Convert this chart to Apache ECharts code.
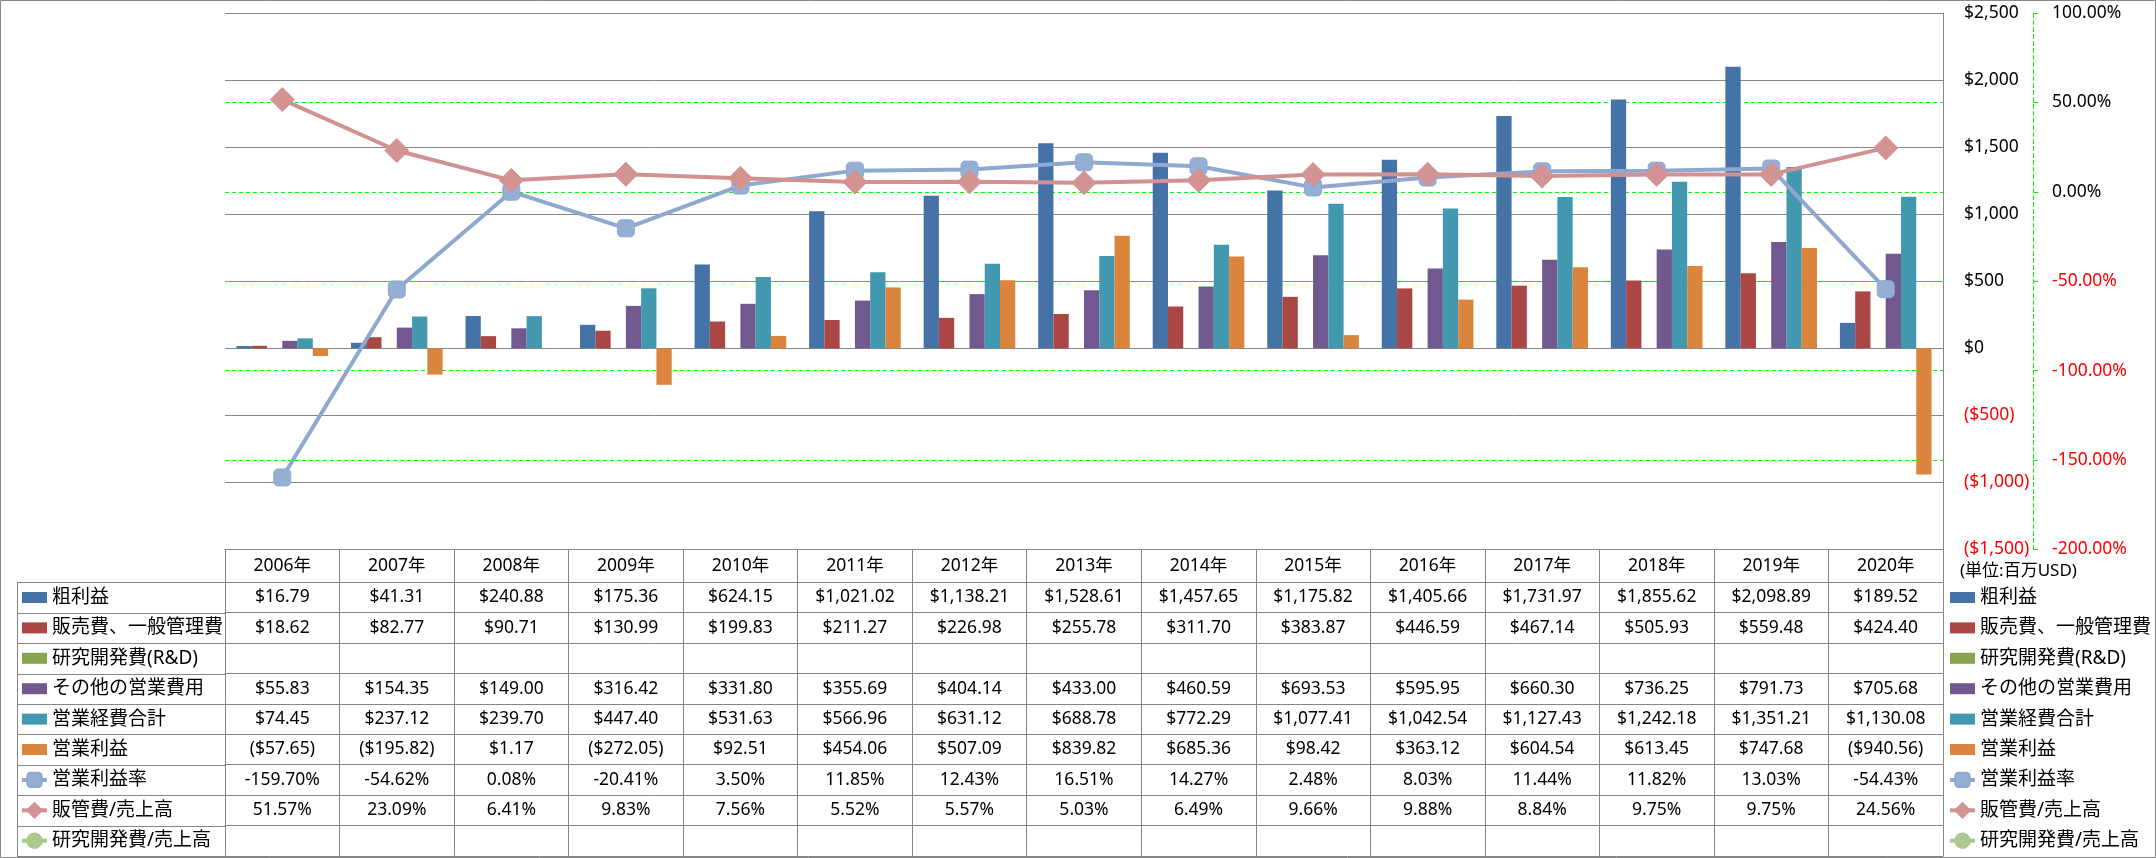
<!DOCTYPE html>
<html>
<head>
<meta charset="utf-8">
<script src="https://cdn.jsdelivr.net/npm/echarts@6/dist/echarts.min.js"></script>
<style>
html,body{margin:0;padding:0;background:#fff;}
#chart{width:2156px;height:858px;}
</style>
</head>
<body>
<div id="chart"></div>
<script>
// ---------- data ----------
const years = ['2006年','2007年','2008年','2009年','2010年','2011年','2012年','2013年','2014年','2015年','2016年','2017年','2018年','2019年','2020年'];
const grossProfit = [16.79, 41.31, 240.88, 175.36, 624.15, 1021.02, 1138.21, 1528.61, 1457.65, 1175.82, 1405.66, 1731.97, 1855.62, 2098.89, 189.52];
const sgaExpense  = [18.62, 82.77, 90.71, 130.99, 199.83, 211.27, 226.98, 255.78, 311.70, 383.87, 446.59, 467.14, 505.93, 559.48, 424.40];
const rdExpense   = [null, null, null, null, null, null, null, null, null, null, null, null, null, null, null];
const otherOpex   = [55.83, 154.35, 149.00, 316.42, 331.80, 355.69, 404.14, 433.00, 460.59, 693.53, 595.95, 660.30, 736.25, 791.73, 705.68];
const totalOpex   = [74.45, 237.12, 239.70, 447.40, 531.63, 566.96, 631.12, 688.78, 772.29, 1077.41, 1042.54, 1127.43, 1242.18, 1351.21, 1130.08];
const opIncome    = [-57.65, -195.82, 1.17, -272.05, 92.51, 454.06, 507.09, 839.82, 685.36, 98.42, 363.12, 604.54, 613.45, 747.68, -940.56];
const opMargin    = [-159.70, -54.62, 0.08, -20.41, 3.50, 11.85, 12.43, 16.51, 14.27, 2.48, 8.03, 11.44, 11.82, 13.03, -54.43];
const sgaRatio    = [51.57, 23.09, 6.41, 9.83, 7.56, 5.52, 5.57, 5.03, 6.49, 9.66, 9.88, 8.84, 9.75, 9.75, 24.56];
const rdRatio     = [null, null, null, null, null, null, null, null, null, null, null, null, null, null, null];

const seriesNames = ['粗利益','販売費、一般管理費','研究開発費(R&D)','その他の営業費用','営業経費合計','営業利益','営業利益率','販管費/売上高','研究開発費/売上高'];
const moneyAxis = {min: -1500, max: 2500, interval: 500};
const pctAxis   = {min: -200, max: 100, interval: 50};
const unitNote  = '(単位:百万USD)';

// ---------- layout / style ----------
const W = 2156, H = 858;
const PLOT_L = 225, PLOT_R = 1943, PLOT_T = 13, PLOT_B = 549.5;
const HEAD_H = 32.8, ROW_H = 30.4;
const NAME_L = 17;
const GRAY = '#868686';
const GREEN = '#00FF00';
const FONT = '"Noto Sans", "Noto Sans CJK JP", sans-serif';
const NUM_FS = 17.5;
const barColors = ['#4572A7','#AA4643','#89A54E','#71588F','#4198AF','#DB843D'];
const lineColors = ['#8FA8CF','#D09291','#A9C78A'];

function money(v, dec) {
  if (v == null) return '';
  const s = '$' + Math.abs(v).toLocaleString('en-US', {minimumFractionDigits: dec, maximumFractionDigits: dec});
  return v < 0 ? '(' + s + ')' : s;
}
function pct(v) { return v == null ? '' : v.toFixed(2) + '%'; }

const barData = [grossProfit, sgaExpense, rdExpense, otherOpex, totalOpex, opIncome];
const lineData = [opMargin, sgaRatio, rdRatio];
const tableRows = barData.map(a => a.map(v => money(v, 2))).concat(lineData.map(a => a.map(pct)));

// ---------- axes ----------
const xAxes = [{
  type: 'category', data: years, gridIndex: 0, position: 'bottom',
  axisLine: {show: true, onZero: false, lineStyle: {color: GRAY, width: 1}},
  axisTick: {show: true, interval: 0, length: HEAD_H, lineStyle: {color: GRAY}},
  axisLabel: {interval: 0, margin: HEAD_H / 2, verticalAlign: 'middle', color: '#000', fontSize: NUM_FS, fontFamily: FONT},
  splitLine: {show: false}
}];
tableRows.forEach((row, k) => {
  xAxes.push({
    type: 'category', data: row, gridIndex: 0, position: 'bottom',
    offset: HEAD_H + ROW_H * k,
    axisLine: {show: true, onZero: false, lineStyle: {color: GRAY, width: 1}},
    axisTick: {show: true, interval: 0, length: ROW_H, lineStyle: {color: GRAY}},
    axisLabel: {interval: 0, margin: ROW_H / 2, verticalAlign: 'middle', color: '#000', fontSize: NUM_FS, fontFamily: FONT},
    splitLine: {show: false}, axisPointer: {show: false}
  });
});
xAxes.push({
  type: 'category', data: years, gridIndex: 0, position: 'bottom',
  offset: HEAD_H + ROW_H * tableRows.length,
  axisLine: {show: true, onZero: false, lineStyle: {color: GRAY, width: 1}},
  axisTick: {show: false}, axisLabel: {show: false}, splitLine: {show: false}
});

const yAxes = [{
  type: 'value', position: 'right', min: moneyAxis.min, max: moneyAxis.max, interval: moneyAxis.interval,
  axisLine: {show: true, lineStyle: {color: GRAY, width: 1}},
  axisTick: {show: false},
  axisLabel: {margin: 21, fontSize: NUM_FS, fontFamily: FONT,
    formatter: v => money(Number(v), 0),
    color: v => Number(v) < 0 ? '#FF0000' : '#000'},
  splitLine: {show: true, lineStyle: {color: GRAY, width: 1}}
}, {
  type: 'value', position: 'right', offset: 90, min: pctAxis.min, max: pctAxis.max, interval: pctAxis.interval,
  axisLine: {show: true, lineStyle: {color: GREEN, width: 1, type: [4, 3]}},
  axisTick: {show: true, length: 5, lineStyle: {color: GREEN, width: 1}},
  axisLabel: {margin: 19, fontSize: NUM_FS, fontFamily: FONT,
    formatter: v => pct(Number(v)),
    color: v => Number(v) < 0 ? '#FF0000' : '#000'},
  splitLine: {show: true, showMinLine: false, showMaxLine: false, lineStyle: {color: GREEN, width: 1, type: [4, 3]}}
}];

// ---------- series ----------
const series = [];
barData.forEach((arr, i) => {
  series.push({
    name: seriesNames[i], type: 'bar', xAxisIndex: 0, yAxisIndex: 0,
    data: arr, barGap: '0%', barCategoryGap: '20%',
    itemStyle: {color: barColors[i]}, emphasis: {disabled: true}
  });
});
const symbols = ['roundRect', 'diamond', 'circle'];
const symSizes = [17, 24, 17];
const symFill = ['#95AED4', '#D39393', '#ADC990'];
lineData.forEach((arr, i) => {
  series.push({
    name: seriesNames[6 + i], type: 'line', xAxisIndex: 0, yAxisIndex: 1,
    data: arr, symbol: symbols[i], symbolSize: symSizes[i], showAllSymbol: true,
    lineStyle: {color: lineColors[i], width: 4},
    itemStyle: {color: symFill[i], borderColor: lineColors[i], borderWidth: 1},
    emphasis: {disabled: true}, z: 3 + i
  });
});

// bar legend icon: a flat 25x11 swatch kept at its aspect ratio inside the legend box
const BAR_ICON = 'path://M0,0H25V11H0Z';
const legendData = seriesNames.map((n, i) => i < 6 ? {name: n, icon: BAR_ICON} : {name: n});
function makeLegend(left) {
  return {
    orient: 'vertical', left: left, top: PLOT_B + HEAD_H, padding: 0,
    itemGap: 0, itemWidth: 25, itemHeight: 18, selectedMode: false,
    symbolKeepAspect: true,
    data: legendData,
    lineStyle: {width: 4},
    textStyle: {fontSize: 19, lineHeight: ROW_H, color: '#000', fontFamily: FONT}
  };
}

// table frame for the name column
const graphics = [];
const crisp = v => Math.round(v) + 0.5;
for (let k = 0; k <= tableRows.length; k++) {
  const y = crisp(PLOT_B + HEAD_H + ROW_H * k);
  graphics.push({type: 'line', shape: {x1: NAME_L, y1: y, x2: PLOT_L, y2: y}, style: {stroke: GRAY, lineWidth: 1}, silent: true});
}
graphics.push({type: 'line', shape: {x1: crisp(NAME_L), y1: crisp(PLOT_B + HEAD_H), x2: crisp(NAME_L), y2: crisp(PLOT_B + HEAD_H + ROW_H * tableRows.length)}, style: {stroke: GRAY, lineWidth: 1}, silent: true});
graphics.push({type: 'rect', shape: {x: 0.5, y: 0.5, width: W - 1, height: H - 1}, style: {fill: 'none', stroke: GRAY, lineWidth: 1}, silent: true});
graphics.push({type: 'text', x: 1960, y: PLOT_B + 22, style: {text: unitNote, fill: '#000', fontSize: 17, fontFamily: FONT, verticalAlign: 'middle'}, silent: true});

const chart = echarts.init(document.getElementById('chart'), null, {renderer: 'canvas'});
chart.setOption({
  animation: false,
  backgroundColor: '#fff',
  textStyle: {fontFamily: FONT},
  grid: {left: PLOT_L, right: W - PLOT_R, top: PLOT_T, bottom: H - PLOT_B, containLabel: false},
  xAxis: xAxes,
  yAxis: yAxes,
  legend: [makeLegend(20), makeLegend(1948)],
  series: series,
  graphic: graphics
});
</script>
</body>
</html>
